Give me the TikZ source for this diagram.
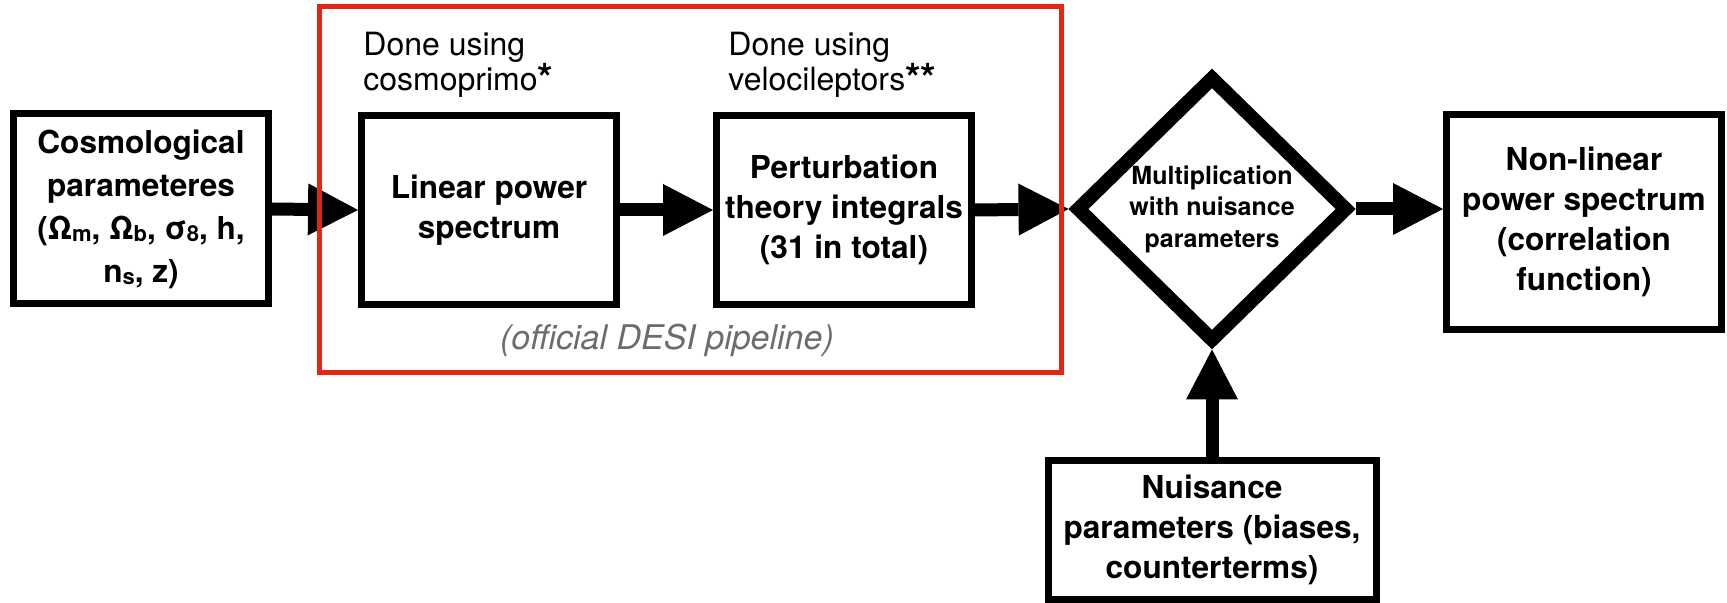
\documentclass[tikz,border=0pt]{standalone}
\usepackage{fontspec}
\setmainfont{TeX Gyre Heros}
\usetikzlibrary{arrows.meta, positioning, shapes.geometric}
\definecolor{desired}{RGB}{226,38,20}
\definecolor{pipegray}{RGB}{108,108,108}
\newcommand{\idx}[1]{\raisebox{-1.2pt}{\fontsize{11}{11}\selectfont #1}}
\newcommand{\fnmark}{\raisebox{-1pt}{\fontsize{20}{20}\selectfont\bfseries *}}

\begin{document}
\begin{tikzpicture}[
  x=0.5pt, y=-0.5pt,
  block/.style={draw, line width=3.5pt, fill=white, align=center, inner sep=0pt,
                font=\fontsize{15.8}{20}\selectfont\bfseries},
  decision/.style={diamond, draw, line width=7pt, fill=white, align=center, inner sep=0pt,
                   font=\fontsize{12.5}{15.75}\selectfont\bfseries},
  tool/.style={anchor=north west, align=left, inner sep=0pt,
               font=\fontsize{16}{17.5}\selectfont},
  arr/.style={-{Triangle[length=25pt, width=26pt, line width=0pt]}, line width=6.5pt}
]
  \useasboundingbox (0,0) rectangle (1727,603);

  % Explicit coordinates in pixels of the original figure
  \node[block, minimum width=127.5pt, minimum height=95pt,
        font=\fontsize{15.8}{21.5}\selectfont\bfseries] (cosmo) at (141, 209)
       {Cosmological\\parameteres\\(Ω\idx{m}, Ω\idx{b}, σ\idx{8}, h,\\n\idx{s}, z)};
  \node[block, minimum width=127.5pt, minimum height=94.5pt] (lin) at (489, 210)
       {Linear power\\spectrum};
  \node[block, minimum width=127.5pt, minimum height=94.5pt] (pt)  at (844, 210)
       {Perturbation\\theory integrals\\(31 in total)};
  \node[decision, minimum width=136.5pt, minimum height=133.5pt] (mult) at (1212, 209)
       {Multiplication\\with nuisance\\parameters};
  \node[block, minimum width=137.5pt, minimum height=107.5pt] (nl) at (1584, 222)
       {Non-linear\\power spectrum\\(correlation\\function)};
  \node[block, minimum width=164pt, minimum height=69.5pt] (nuis) at (1212, 530)
       {Nuisance\\parameters (biases,\\counterterms)};

  % Labels above the pipeline boxes
  \node[tool] (prim) at (363, 32) {Done using\\cosmoprimo\fnmark};
  \node[tool] (velo) at (728, 32) {Done using\\velocileptors\fnmark\fnmark};

  % Arrows
  \draw[arr] (cosmo.east) -- (lin.west);
  \draw[arr] (lin.east)   -- (pt.west);
  \draw[arr] (pt.east)    -- (mult.west);
  \draw[arr] (mult.east)  -- (mult.east -| nl.west);
  \draw[arr] (nuis.north) -- (mult.south);

  % Frame of the official pipeline
  \node[draw=desired, line width=2.5pt, minimum width=371pt, minimum height=183pt,
        inner sep=0pt, outer sep=0pt] (desi) at (690, 190) {};
  \node[anchor=base, font=\fontsize{17}{20}\selectfont\itshape, text=pipegray]
       (desilabel) at (667, 350) {(official DESI pipeline)};
\end{tikzpicture}
\end{document}
